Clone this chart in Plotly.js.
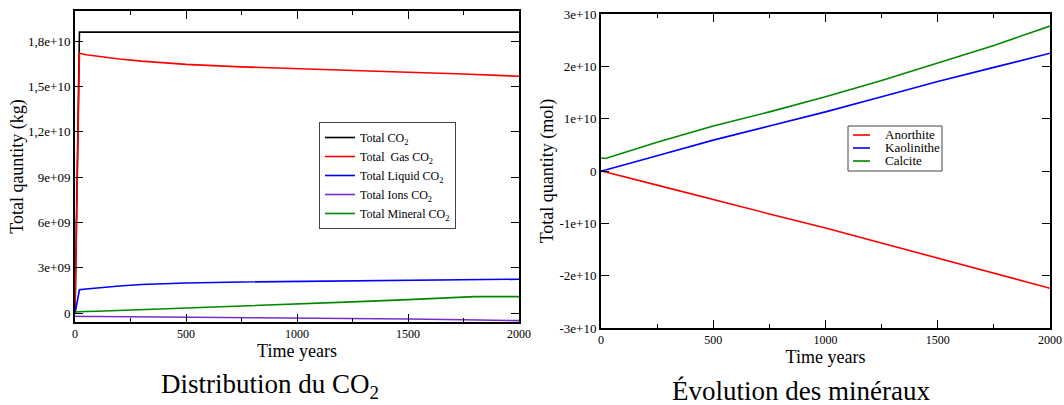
<!DOCTYPE html>
<html><head><meta charset="utf-8">
<script src="https://cdn.plot.ly/plotly-3.0.1.min.js"></script>
<style>html,body{margin:0;padding:0;background:#fff}#chart{width:1064px;height:405px}</style>
</head><body><div id="chart"></div>
<script>
// ---- Left chart: CO2 distribution (kg) ----
const timeCO2 = [0, 20, 50, 100, 200, 300, 400, 500, 750, 1000, 1250, 1500, 1750, 1800, 2000];
const totalCO2 = [0, 1.86e10, 1.86e10, 1.86e10, 1.86e10, 1.86e10, 1.86e10, 1.86e10, 1.86e10, 1.86e10, 1.86e10, 1.86e10, 1.86e10, 1.86e10, 1.86e10];
const gasCO2 = [0, 1.72e10, 1.71e10, 1.70e10, 1.682e10, 1.668e10, 1.657e10, 1.647e10, 1.63e10, 1.617e10, 1.605e10, 1.595e10, 1.583e10, 1.58e10, 1.568e10];
const liquidCO2 = [0, 1.55e9, 1.6e9, 1.68e9, 1.8e9, 1.9e9, 1.96e9, 2.0e9, 2.07e9, 2.11e9, 2.14e9, 2.17e9, 2.2e9, 2.2e9, 2.25e9];
const ionsCO2 = [-0.2e9, -0.22e9, -0.22e9, -0.22e9, -0.23e9, -0.24e9, -0.25e9, -0.26e9, -0.28e9, -0.31e9, -0.34e9, -0.38e9, -0.43e9, -0.45e9, -0.49e9];
const mineralCO2 = [0.08e9, 0.1e9, 0.11e9, 0.13e9, 0.18e9, 0.24e9, 0.29e9, 0.35e9, 0.48e9, 0.6e9, 0.75e9, 0.9e9, 1.07e9, 1.1e9, 1.1e9];
const co2Names = ["Total CO<sub>2</sub>", "Total\u00a0 Gas CO<sub>2</sub>", "Total Liquid CO<sub>2</sub>", "Total Ions CO<sub>2</sub>", "Total Mineral CO<sub>2</sub>"];
const co2TickVals = [0, 3e9, 6e9, 9e9, 1.2e10, 1.5e10, 1.8e10];
const co2TickText = ["0", "3e+09", "6e+09", "9e+09", "1,2e+10", "1,5e+10", "1,8e+10"];

// ---- Right chart: minerals (mol) ----
const timeMin = [0, 20, 250, 500, 750, 1000, 1250, 1500, 1750, 2000];
const anorthite = [0, -0.02e10, -0.27e10, -0.55e10, -0.82e10, -1.09e10, -1.38e10, -1.67e10, -1.95e10, -2.24e10];
const kaolinite = [0, 0.02e10, 0.29e10, 0.59e10, 0.86e10, 1.13e10, 1.42e10, 1.71e10, 1.98e10, 2.25e10];
const calcite = [0.25e10, 0.24e10, 0.55e10, 0.86e10, 1.13e10, 1.42e10, 1.73e10, 2.06e10, 2.4e10, 2.77e10];
const minNames = ["Anorthite", "Kaolinithe", "Calcite"];
const minColors = ['#ff0000', '#0000ff', '#008800'];
const minTickVals = [-3e10, -2e10, -1e10, 0, 1e10, 2e10, 3e10];
const minTickText = ["-3e+10", "-2e+10", "-1e+10", "0", "1e+10", "2e+10", "3e+10"];

const xTickVals = [0, 500, 1000, 1500, 2000];
const xTickText = ["0", "500", "1000", "1500", "2000"];

const FONT = "Liberation Serif, Times New Roman, serif";
const W = 1064, H = 405;

function ln(x, y, name, color, xa, ya, show) {
  return {x: x, y: y, name: name, type: 'scatter', mode: 'lines', showlegend: show,
    line: {color: color, width: 1.6}, xaxis: xa, yaxis: ya};
}

const traces = [
  ln(timeCO2, totalCO2, co2Names[0], '#000000', 'x', 'y', true),
  ln(timeCO2, gasCO2, co2Names[1], '#ff0000', 'x', 'y', true),
  ln(timeCO2, liquidCO2, co2Names[2], '#0000ff', 'x', 'y', true),
  ln(timeCO2, ionsCO2, co2Names[3], '#7a2cc8', 'x', 'y', true),
  ln(timeCO2, mineralCO2, co2Names[4], '#008800', 'x', 'y', true),
  ln(timeMin, anorthite, minNames[0], minColors[0], 'x2', 'y2', false),
  ln(timeMin, kaolinite, minNames[1], minColors[1], 'x2', 'y2', false),
  ln(timeMin, calcite, minNames[2], minColors[2], 'x2', 'y2', false)
];

function xax(domain, anchor, standoff) {
  return {domain: domain, anchor: anchor, range: [0, 2000], tickmode: 'array',
    tickvals: xTickVals, ticktext: xTickText, ticks: 'inside', ticklen: 8, tickwidth: 1,
    tickcolor: '#000', showline: true, linecolor: '#000', linewidth: 2, mirror: 'ticks',
    showgrid: false, zeroline: false, tickfont: {family: FONT, size: 12, color: '#000'},
    minor: {tickvals: [250, 750, 1250, 1750], ticks: 'inside', ticklen: 4, tickcolor: '#000', showgrid: false},
    title: {text: 'Time years', font: {family: FONT, size: 18, color: '#000'}, standoff: standoff},
    automargin: false, fixedrange: true};
}
function yax(domain, anchor, range, tv, tt, title, standoff) {
  return {domain: domain, anchor: anchor, range: range, tickmode: 'array',
    tickvals: tv, ticktext: tt, ticks: 'inside', ticklen: 8, tickwidth: 1, tickcolor: '#000',
    showline: true, linecolor: '#000', linewidth: 2, mirror: 'ticks', showgrid: false,
    zeroline: false, tickfont: {family: FONT, size: 13, color: '#000'},
    title: {text: title, font: {family: FONT, size: 18, color: '#000'}, standoff: standoff},
    automargin: false, fixedrange: true};
}

// Right-hand legend (compact, like the reference)
const lgX0 = 848, lgX1 = 942, lgY0 = 126, lgY1 = 171;
const lgRows = [135, 148, 161];
const shapes = [{type: 'rect', xref: 'paper', yref: 'paper', x0: lgX0 / W, x1: lgX1 / W,
  y0: 1 - lgY1 / H, y1: 1 - lgY0 / H, line: {color: '#444', width: 1}, fillcolor: '#fff', layer: 'above'}];
const annotations = [
  {text: 'Distribution du CO<sub>2</sub>', xref: 'paper', yref: 'paper', x: 270 / W, y: 1 - 386 / H,
    xanchor: 'center', yanchor: 'middle', showarrow: false, font: {family: FONT, size: 27, color: '#000'}},
  {text: 'Évolution des minéraux', xref: 'paper', yref: 'paper', x: 801 / W, y: 1 - 391 / H,
    xanchor: 'center', yanchor: 'middle', showarrow: false, font: {family: FONT, size: 27, color: '#000'}}
];
minNames.forEach(function (n, i) {
  shapes.push({type: 'line', xref: 'paper', yref: 'paper', x0: 853 / W, x1: 870 / W,
    y0: 1 - lgRows[i] / H, y1: 1 - lgRows[i] / H, line: {color: minColors[i], width: 1.6}, layer: 'above'});
  annotations.push({text: n, xref: 'paper', yref: 'paper', x: 883 / W, y: 1 - lgRows[i] / H,
    xanchor: 'left', yanchor: 'middle', showarrow: false, font: {family: FONT, size: 13, color: '#000'}});
});

const layout = {
  width: W, height: H, margin: {l: 0, r: 0, t: 0, b: 0},
  paper_bgcolor: '#fff', plot_bgcolor: '#fff',
  font: {family: FONT, color: '#000'},
  xaxis: xax([75 / W, 519 / W], 'y', 0),
  yaxis: yax([1 - 322 / H, 1 - 11 / H], 'x', [-0.58e9, 2.0e10], co2TickVals, co2TickText, 'Total qauntity (kg)', 0),
  xaxis2: xax([601 / W, 1050 / W], 'y2', 0),
  yaxis2: yax([1 - 328 / H, 1 - 14 / H], 'x2', [-3e10, 3e10], minTickVals, minTickText, 'Total quantity (mol)', 1),
  legend: {x: 319 / W, y: 1 - 122 / H, xanchor: 'left', yanchor: 'top', bgcolor: '#fff',
    bordercolor: '#444', borderwidth: 1, font: {family: FONT, size: 12, color: '#000'}, itemwidth: 30},
  shapes: shapes,
  annotations: annotations,
  showlegend: true
};

Plotly.newPlot('chart', traces, layout, {staticPlot: true, displayModeBar: false});
</script></body></html>
